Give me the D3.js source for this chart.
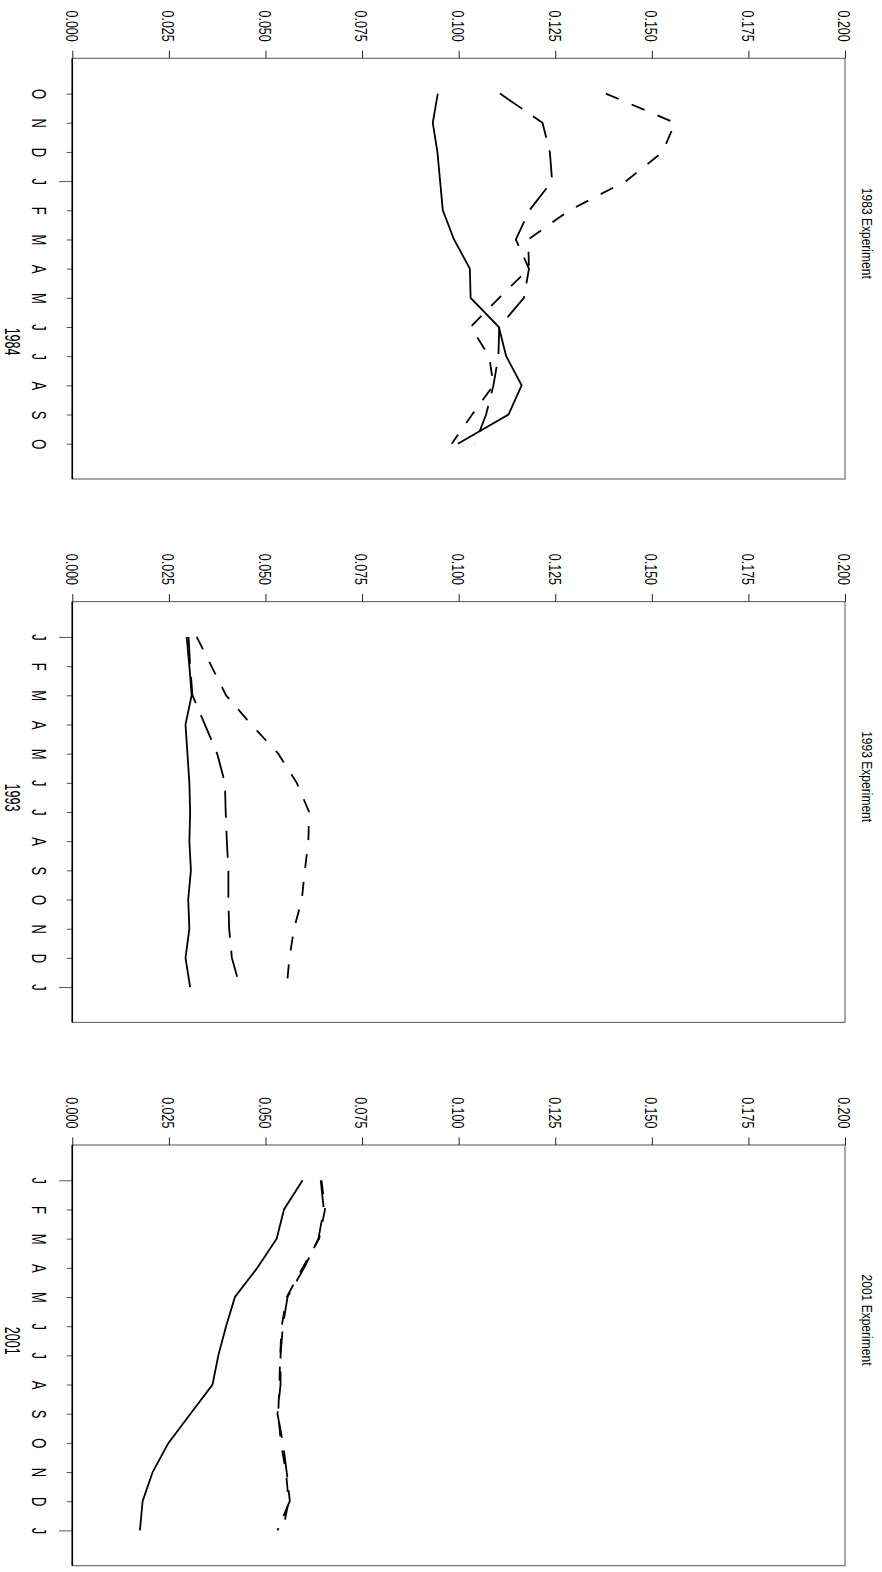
<!DOCTYPE html>
<html>
<head>
<meta charset="utf-8">
<script src="https://cdn.jsdelivr.net/npm/d3@7"></script>
<style>
  html, body { margin: 0; padding: 0; background: #fff; }
  svg { display: block; }
  text { font-family: "Liberation Sans", Arial, sans-serif; fill: #000; }
</style>
</head>
<body>
<svg id="chart" width="882" height="1572"></svg>
<script>
// ---------------- data ----------------
const valueTicks = [0, 0.025, 0.05, 0.075, 0.1, 0.125, 0.15, 0.175, 0.2];

const months1983 = ["O","N","D","J","F","M","A","M","J","J","A","S","O"];
const months1993 = ["J","F","M","A","M","J","J","A","S","O","N","D","J"];
const months2001 = ["J","F","M","A","M","J","J","A","S","O","N","D","J"];

const titles = ["1983 Experiment", "1993 Experiment", "2001 Experiment"];
const yearLabels = ["1984", "1993", "2001"];

// 1983 experiment
const exp1983Solid     = [0.0946,0.0933,0.0945,0.0952,0.0959,0.0988,0.1029,0.1031,0.1104,0.1123,0.1163,0.1129,0.0998];
const exp1983LongDash  = [0.1107,0.1217,0.1236,0.1242,0.1183,0.1148,0.1182,0.1169,0.1105,0.1103,0.1090,0.1071,0.1042];
const exp1983ShortDash = [0.1381,0.1560,0.1528,0.1433,0.1287,0.1180,0.1182,0.1105,0.1031,0.1079,0.1090,0.1035,0.0982];

// 1993 experiment
const exp1993Solid     = [0.0296,0.0303,0.0309,0.0293,0.0298,0.0303,0.0305,0.0303,0.0307,0.0300,0.0303,0.0293,0.0305];
const exp1993LongDash  = [0.0301,0.0305,0.0311,0.0343,0.0375,0.0395,0.0397,0.0400,0.0404,0.0404,0.0406,0.0413,0.0434];
const exp1993ShortDash = [0.0322,0.0360,0.0398,0.0463,0.0533,0.0581,0.0613,0.0611,0.0602,0.0594,0.0574,0.0562,0.0555];

// 2001 experiment
const exp2001Solid     = [0.0596,0.0548,0.0529,0.0479,0.0421,0.0398,0.0378,0.0363,0.0306,0.0249,0.0208,0.0182,0.0175];
const exp2001LongDash  = [0.0643,0.0651,0.0637,0.0600,0.0557,0.0545,0.0539,0.0539,0.0531,0.0545,0.0555,0.0563,0.0531];
const exp2001ShortDash = [0.0645,0.0654,0.0639,0.0596,0.0555,0.0542,0.0538,0.0536,0.0533,0.0540,0.0553,0.0560,0.0545];

const panels = [
  { title: titles[0], year: yearLabels[0], months: months1983,
    series: [exp1983Solid, exp1983LongDash, exp1983ShortDash] },
  { title: titles[1], year: yearLabels[1], months: months1993,
    series: [exp1993Solid, exp1993LongDash, exp1993ShortDash] },
  { title: titles[2], year: yearLabels[2], months: months2001,
    series: [exp2001Solid, exp2001LongDash, exp2001ShortDash] }
];

// ---------------- layout ----------------
const svg = d3.select("#chart");
const left = 72.3, right = 845;
const boxH = 420.7;
const firstTop = 58.3, stride = 543.35;
const pad = 35.3;
const styles = [
  { dash: null },
  { dash: "27,13" },
  { dash: "14,14" }
];

const x = d3.scaleLinear().domain([0, 0.2]).range([left, right]);

panels.forEach((p, pi) => {
  const top = firstTop + pi * stride;
  const bottom = top + boxH;
  const g = svg.append("g");

  const y = d3.scaleLinear().domain([0, p.months.length - 1]).range([top + pad, bottom - pad]);

  // box
  g.append("rect")
    .attr("x", left).attr("y", top)
    .attr("width", right - left).attr("height", boxH)
    .attr("fill", "none").attr("stroke", "#555").attr("stroke-width", 1);

  // value axis (top)
  const axT = g.append("g")
    .attr("transform", `translate(0,${top})`)
    .call(d3.axisTop(x).tickValues(valueTicks).tickFormat(d3.format(".3f")).tickSize(7.6).tickSizeOuter(0));
  axT.select(".domain").remove();
  axT.selectAll(".tick line").attr("stroke", "#222").attr("stroke-width", 1);
  axT.selectAll(".tick text")
    .attr("x", null).attr("y", null).attr("dy", null)
    .attr("text-anchor", "end")
    .attr("font-size", 16)
    .attr("font-family", "Liberation Sans, Arial, sans-serif")
    .attr("transform", "translate(-7.2,-16.6) rotate(90) scale(0.78,1)");

  // month axis (left)
  const axL = g.append("g")
    .attr("transform", `translate(${left},0)`)
    .call(d3.axisLeft(y).tickValues(d3.range(p.months.length)).tickFormat(i => p.months[i]).tickSize(5.6).tickSizeOuter(0));
  axL.select(".domain").remove();
  axL.selectAll(".tick line")
    .attr("stroke", "#555").attr("stroke-width", 1)
    .attr("x2", i => {
      const m = p.months;
      const isJan = m[i] === "J" && ((i > 0 && m[i-1] === "D") || (i < m.length - 1 && m[i+1] === "F"));
      return isJan ? -13.3 : -5.6;
    });
  axL.selectAll(".tick text")
    .attr("x", null).attr("y", null).attr("dy", null)
    .attr("text-anchor", "middle")
    .attr("font-size", 21)
    .attr("font-family", "Liberation Sans, Arial, sans-serif")
    .attr("transform", "translate(-40.6,0) rotate(90) scale(0.62,1)");

  // left axis line
  g.append("line")
    .attr("x1", left).attr("x2", left)
    .attr("y1", top).attr("y2", bottom)
    .attr("stroke", "#000").attr("stroke-width", 1.6);

  // year label: centred on the 12 months starting at January
  const janIdx = p.months.findIndex((m, i) => m === "J" && (p.months[i+1] === "F"));
  g.append("text")
    .attr("text-anchor", "middle")
    .attr("font-size", 22)
    .attr("transform", `translate(5,${y(janIdx + 5.5)}) rotate(90) scale(0.57,1)`)
    .text(p.year);

  // title
  g.append("text")
    .attr("text-anchor", "middle")
    .attr("font-size", 14)
    .attr("transform", `translate(862,${top + 175}) rotate(90) scale(0.86,1)`)
    .text(p.title);

  // series lines
  const line = d3.line().x(d => x(d)).y((d, i) => y(i));
  p.series.forEach((s, si) => {
    g.append("path")
      .datum(s)
      .attr("d", line)
      .attr("fill", "none")
      .attr("stroke", "#000")
      .attr("stroke-width", 1.8)
      .attr("stroke-dasharray", styles[si].dash);
  });
});
</script>
</body>
</html>
